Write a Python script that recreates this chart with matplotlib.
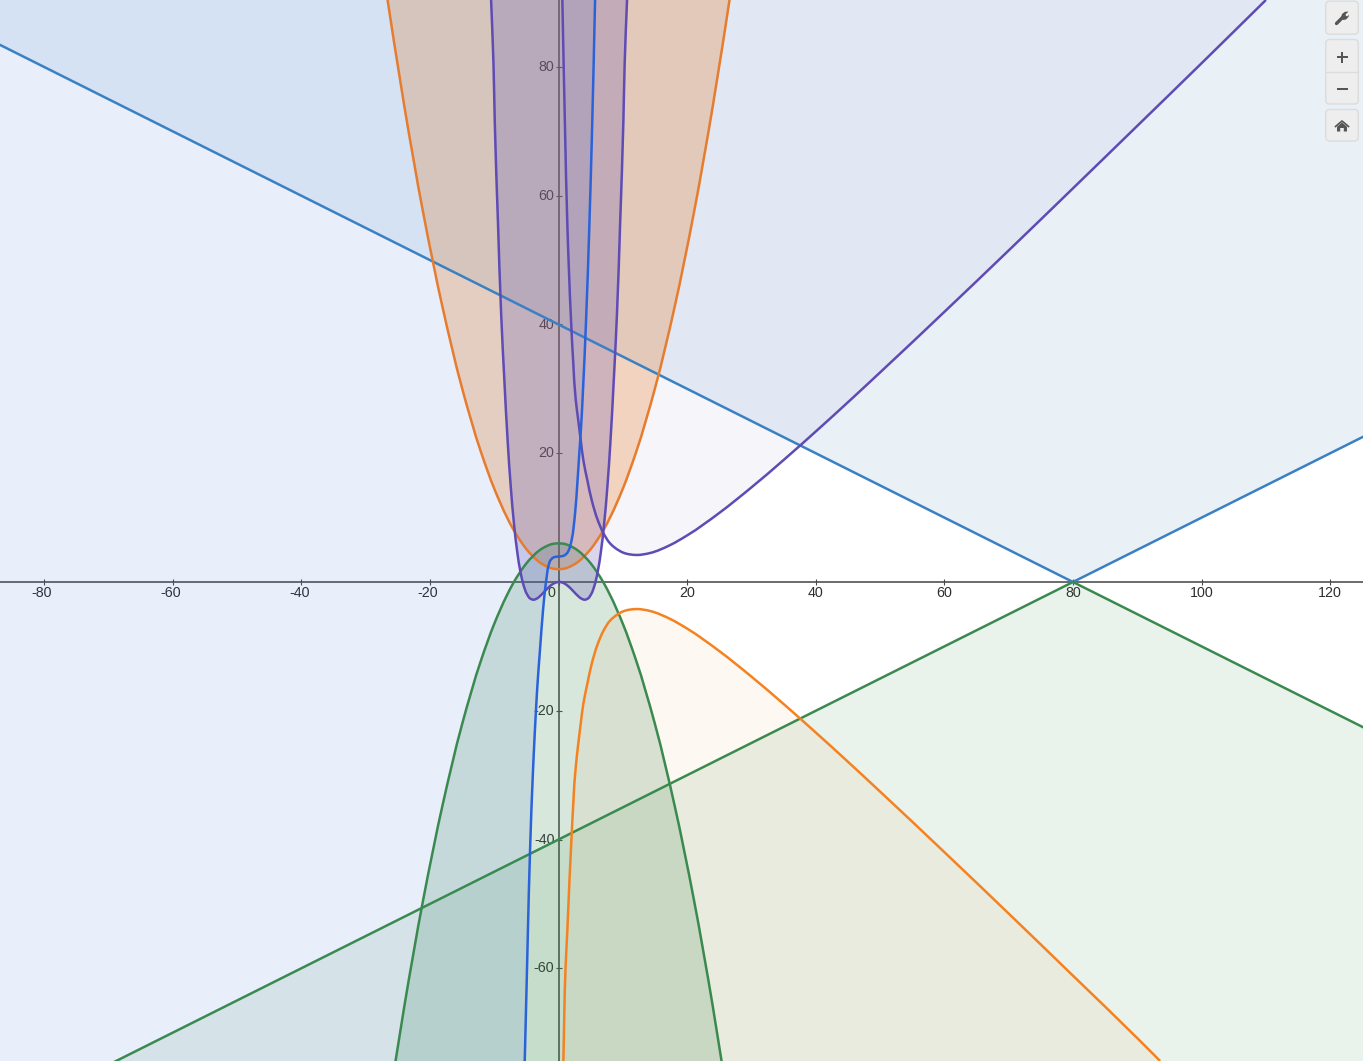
import matplotlib
matplotlib.use("Agg")
import math
import matplotlib.pyplot as plt
from matplotlib.patches import FancyBboxPatch, PathPatch, Polygon, Rectangle
from matplotlib.path import Path
from matplotlib.transforms import ScaledTranslation

# Values
cubic_x = [-5.26,-4.90,-4.76,-4.43,-3.97,-3.75,-3.51,-3.23,-2.89,-2.41,-2.10,-1.87,-1.59,-1.24,-0.81,-0.28,0.20,0.75,1.15,1.52,1.79,2.05,2.57,2.92,3.23,3.50,3.81,4.28,4.79,5.21,5.68]
cubic_y = [-74.4,-59.9,-54.0,-41.6,-29.2,-24.5,-19.9,-15.2,-10.6,-4.35,-1.2,0.6,2.4,3.4,3.8,3.93,3.97,4.06,4.3,4.8,5.5,6.6,10.7,15.3,20.0,24.0,30.0,40.7,55.4,70.2,90.4]

quartic_x = [-10.49,-10.12,-9.92,-9.42,-8.92,-8.42,-7.92,-7.42,-6.92,-6.42,-5.92,-5.42,-4.92,-4.42,-3.92,-3.42,-2.92,-2.42,-1.92,-1.42,-0.92,-0.42,0.08,0.58,1.08,1.58,2.08,2.58,3.08,3.58,4.08,4.58,5.08,5.58,6.08,6.58,7.08,7.58,8.08,8.58,9.08,9.58,10.08,10.28,10.65]
quartic_y = [90.4,80.5,71.5,55.8,41.5,31.2,22.0,14.65,8.95,4.65,1.55,-0.57,-1.88,-2.56,-2.75,-2.6,-2.22,-1.73,-1.2,-0.72,-0.33,-0.085,0,-0.085,-0.33,-0.72,-1.2,-1.73,-2.22,-2.6,-2.75,-2.56,-1.88,-0.57,1.55,4.65,8.95,14.65,22.0,31.2,41.5,55.8,71.5,80.5,90.4]

upper_hyp_x = [0.59,1.01,1.37,1.94,2.30,2.67,3.08,3.45,3.86,4.48,5.16,6.10,6.97,8.01,8.79,10.08,12.16,14.23,17.34,20,25,30,35,40,45,50,60,70,80,90,100,110]
upper_hyp_y = [90.4,70.2,55.4,40.7,33.8,28.3,25.0,22.0,18.9,15.8,12.7,9.6,7.6,6.0,5.3,4.55,4.2,4.5,5.73,7.24,10.73,14.7,18.95,23.38,27.92,32.55,41.96,51.5,61.15,70.85,80.58,90.4]

lower_hyp_x = [0.75,1.09,1.37,2.05,2.67,3.08,3.45,3.86,4.48,5.16,6.10,6.97,8.01,8.79,10.08,12.16,14.23,17.34,20,25,30,35,40,45,50,60,70,80,90,93.55]
lower_hyp_y = [-74.4,-59.9,-54.0,-39.0,-28.8,-25.0,-22.0,-18.9,-15.8,-12.7,-9.6,-7.6,-6.0,-5.3,-4.55,-4.2,-4.5,-5.73,-7.24,-10.73,-14.7,-18.95,-23.38,-27.92,-32.55,-41.96,-51.5,-61.15,-70.85,-74.4]

par_x = [-27,-24,-21,-18,-15,-12,-10,-8,-7,-6,-5,-4,-3,-2,-1,0,1,2,3,4,5,6,7,8,10,12,15,18,21,24,27]
up_par_y = [93.1,74,57.1,42.5,30.1,20,14.5,10,8.1,6.5,5.1,4,3.1,2.5,2.1,2,2.1,2.5,3.1,4,5.1,6.5,8.1,10,14.5,20,30.1,42.5,57.1,74,93.1]
down_par_y = [-85.1,-66,-49.1,-34.5,-22.1,-12,-6.5,-2,-0.1,1.5,2.9,4,4.9,5.5,5.9,6,5.9,5.5,4.9,4,2.9,1.5,-0.1,-2,-6.5,-12,-22.1,-34.5,-49.1,-66,-85.1]

vee_x = [-87,80,126]
up_vee_y = [83.5,0,23]
down_vee_y = [-83.5,0,-23]

x_ticks = [-80,-60,-40,-20,0,20,40,60,80,100,120]
x_labels = ['-80','-60','-40','-20','0','20','40','60','80','100','120']
y_ticks = [-60,-40,-20,20,40,60,80]
y_labels = ['-60','-40','-20','20','40','60','80']

C_CUBIC = '#2a62d9'
C_VEE = '#3a80c2'
C_VEE_FILL = '#2a77b5'
C_PURPLE = '#5e4bb4'
C_ORANGE_UP = '#e67c2e'
C_ORANGE_FILL = '#f07f1e'
C_ORANGE_LOW = '#f58220'
C_GREEN = '#3a8a50'
LW = 1.8
AXC = '#4a4a4a'

plt.rcParams['font.family'] = ['Liberation Sans Narrow', 'Liberation Sans', 'DejaVu Sans']


def smooth_verts(xs, ys):
    """Bezier vertices that pass through every read point, with rounded joins."""
    pts = list(zip(xs, ys))
    n = len(pts)
    chord = [math.dist(pts[i], pts[i + 1]) for i in range(n - 1)]
    unit = [((pts[i + 1][0] - pts[i][0]) / chord[i], (pts[i + 1][1] - pts[i][1]) / chord[i]) for i in range(n - 1)]
    tang = [unit[0]]
    for i in range(1, n - 1):
        a, b = chord[i - 1], chord[i]
        tang.append(((b * unit[i - 1][0] + a * unit[i][0]) / (a + b), (b * unit[i - 1][1] + a * unit[i][1]) / (a + b)))
    tang.append(unit[-1])
    verts = [pts[0]]
    codes = [Path.MOVETO]
    for i in range(n - 1):
        d = chord[i] / 3
        verts += [(pts[i][0] + tang[i][0] * d, pts[i][1] + tang[i][1] * d),
                  (pts[i + 1][0] - tang[i + 1][0] * d, pts[i + 1][1] - tang[i + 1][1] * d),
                  pts[i + 1]]
        codes += [Path.CURVE4] * 3
    return verts, codes


def curve(ax, xs, ys, color, closing=None, fill=None, alpha=0.0):
    verts, codes = smooth_verts(xs, ys)
    if closing is not None:
        region = Path(verts + closing + [verts[0]],
                      codes + [Path.LINETO] * len(closing) + [Path.CLOSEPOLY])
        ax.add_patch(PathPatch(region, fc=fill or color, ec='none', alpha=alpha, zorder=1))
    ax.add_patch(PathPatch(Path(verts, codes), fc='none', ec=color, lw=LW, zorder=2))


fig = plt.figure(figsize=(13.63, 10.61), dpi=100)
ax = fig.add_axes([0, 0, 1, 1])
xmin, xmax = -86.86, 125.1
ymin, ymax = -74.4, 90.4
ax.set_xlim(xmin, xmax)
ax.set_ylim(ymin, ymax)
ax.patch.set_facecolor('white')

# axes sit under the translucent regions
ax.spines['left'].set_position(('data', 0))
ax.spines['bottom'].set_position(('data', 0))
ax.spines['top'].set_visible(False)
ax.spines['right'].set_visible(False)
for s in ('left', 'bottom'):
    ax.spines[s].set_color(AXC)
    ax.spines[s].set_linewidth(1.15)
    ax.spines[s].set_zorder(0.5)
ax.set_axisbelow(True)
ax.xaxis.set_zorder(0.5)
ax.yaxis.set_zorder(0.5)
ax.set_xticks(x_ticks, x_labels)
ax.set_yticks(y_ticks, y_labels)
ax.tick_params(axis='both', direction='inout', length=4.4, width=0.8, color=AXC,
               labelcolor='#2e2e2e', labelsize=10.3)
ax.tick_params(axis='x', pad=1.0)
ax.tick_params(axis='y', pad=0.8)
for lab, val in zip(ax.get_xticklabels(), x_ticks):
    dx = -2.2 if val < 0 else (-7.5 if val == 0 else 0)
    lab.set_transform(lab.get_transform() + ScaledTranslation(dx / 100, 0, fig.dpi_scale_trans))
for lab in ax.get_yticklabels():
    lab.set_transform(lab.get_transform() + ScaledTranslation(0, 1.3 / 100, fig.dpi_scale_trans))

# straight V regions
ax.fill_between(vee_x, up_vee_y, ymax + 1, color=C_VEE_FILL, alpha=0.1, lw=0, zorder=1)
ax.fill_between(vee_x, down_vee_y, ymin - 1, color=C_GREEN, alpha=0.11, lw=0, zorder=1)
ax.plot(vee_x, up_vee_y, color=C_VEE, lw=LW, zorder=2)
ax.plot(vee_x, down_vee_y, color=C_GREEN, lw=LW, zorder=2)

# curved regions
top = ymax + 12
bot = ymin - 12
curve(ax, par_x, up_par_y, C_ORANGE_UP, [(par_x[-1], top), (par_x[0], top)], fill=C_ORANGE_FILL, alpha=0.28)
curve(ax, par_x, down_par_y, C_GREEN, [(par_x[-1], bot), (par_x[0], bot)], alpha=0.2)
curve(ax, upper_hyp_x, upper_hyp_y, C_PURPLE, [(upper_hyp_x[-1], top), (upper_hyp_x[0], top)], alpha=0.055)
curve(ax, lower_hyp_x, lower_hyp_y, C_ORANGE_LOW, [(lower_hyp_x[-1], bot), (lower_hyp_x[0], bot)], alpha=0.055)
curve(ax, quartic_x, quartic_y, C_PURPLE, [(quartic_x[-1], top), (quartic_x[0], top)], alpha=0.23)
curve(ax, cubic_x, cubic_y, C_CUBIC, [(cubic_x[-1], top), (xmin - 1, top), (xmin - 1, bot), (cubic_x[0], bot)], alpha=0.1)

# toolbar, drawn in pixel coordinates
ui = fig.add_axes([0, 0, 1, 1], zorder=5)
ui.set_xlim(0, 1363)
ui.set_ylim(1061, 0)
ui.axis('off')
ui.patch.set_alpha(0)
BTN = dict(boxstyle='round,pad=0,rounding_size=4', facecolor='#eeeeee', edgecolor='#dcdcdc', linewidth=1)
for y0, h in ((1.2, 33), (39.5, 64.5), (109.5, 31.5)):
    ui.add_patch(FancyBboxPatch((1325.7, y0), 32.6, h, **BTN))
ui.plot([1325.7, 1358.3], [71.7, 71.7], color='#dcdcdc', lw=1)
ICON = '#555555'
# wrench
ui.plot([1336.5, 1343], [23.5, 17], color=ICON, lw=2.4, solid_capstyle='round')
ui.add_patch(Polygon([(1341, 18), (1342, 14), (1345, 11.8), (1348.5, 11.5), (1345.5, 14.5), (1346, 16), (1347.5, 16.3),
                      (1349, 14.5), (1348.5, 17), (1346, 19.5), (1343.5, 20)], closed=True, fc=ICON, ec='none'))
# plus, minus
ui.add_patch(Rectangle((1336.5, 55.6), 11, 2.8, fc=ICON, ec='none'))
ui.add_patch(Rectangle((1340.6, 51.5), 2.8, 11, fc=ICON, ec='none'))
ui.add_patch(Rectangle((1336.5, 87.6), 11, 2.8, fc=ICON, ec='none'))
# home
ui.plot([1335.5, 1342, 1348.5], [126.5, 121, 126.5], color=ICON, lw=1.2)
ui.add_patch(Polygon([(1342, 122.5), (1347, 126.8), (1347, 131.5), (1343.8, 131.5), (1343.8, 128), (1340.2, 128),
                      (1340.2, 131.5), (1337, 131.5), (1337, 126.8)], closed=True, fc=ICON, ec='none'))

fig.savefig('out.png', dpi=100)
